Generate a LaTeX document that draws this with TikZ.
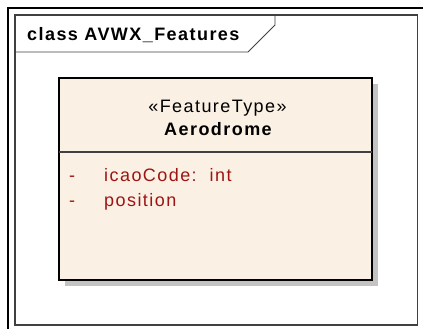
\documentclass[tikz,border=0pt]{standalone}
\usepackage{fontspec}
\setmainfont{Liberation Sans}
\newfontfamily\umlfont{Liberation Sans}[LetterSpace=8]
\definecolor{boxfill}{HTML}{FAF0E3}
\definecolor{boxedge}{HTML}{EEE3D3}
\definecolor{attrred}{HTML}{9E1414}
\definecolor{shadowgray}{HTML}{C3C3C3}
\definecolor{framegray}{HTML}{404040}
\pgfdeclarehorizontalshading{clsshade}{100bp}{color(0bp)=(boxedge); color(12bp)=(boxfill); color(100bp)=(boxfill)}
\begin{document}
\begin{tikzpicture}[x=1pt,y=-1pt,
  lbl/.style={inner sep=0pt,font=\umlfont\fontsize{18}{21}\selectfont},
  boldlbl/.style={inner sep=0pt,font=\umlfont\bfseries\fontsize{18}{21}\selectfont},
  attr/.style={lbl,text=attrred,anchor=base west},
  classbox/.style={draw=black,line width=2pt,minimum width=313pt,minimum height=202pt,inner sep=0pt,shading=clsshade}]
\useasboundingbox (0,0) rectangle (423,329);
\fill[white] (0,0) rectangle (423,329);
% outer frame
\draw[line width=2pt,black] (8.3,329) -- (8.3,8.3) -- (423,8.3);
% inner frame
\node[draw=framegray,line width=1.1pt,minimum width=402.5pt,minimum height=310pt,inner sep=0pt] (frame) at (216.25,170) {};
% tab
\coordinate (t1) at (275,15);
\coordinate (t2) at (275,25);
\coordinate (t3) at (248,52);
\coordinate (t4) at (15,52);
\draw[framegray,line width=0.9pt] (t1) -- (t2) -- (t3) -- (t4);
\node[boldlbl,anchor=base west] (title) at (27,41) {class AVWX\_Features};
% shadow
\fill[shadowgray] (65,84) rectangle (378,286);
% class box
\node[classbox] (cls) at (215.5,179) {};
\coordinate (dl) at (59,152);
\coordinate (dr) at (372,152);
\draw[framegray,line width=1.4pt] (dl) -- (dr);
\node[lbl,anchor=base] (stereo) at (217.5,112) {«FeatureType»};
\node[boldlbl,anchor=base] (name) at (218,135) {Aerodrome};
\node[attr] (d1) at (69,181) {-};
\node[attr] (a1) at (104,181) {icaoCode:\ \ int};
\node[attr] (d2) at (69,206) {-};
\node[attr] (a2) at (104,206) {position};
\end{tikzpicture}
\end{document}
